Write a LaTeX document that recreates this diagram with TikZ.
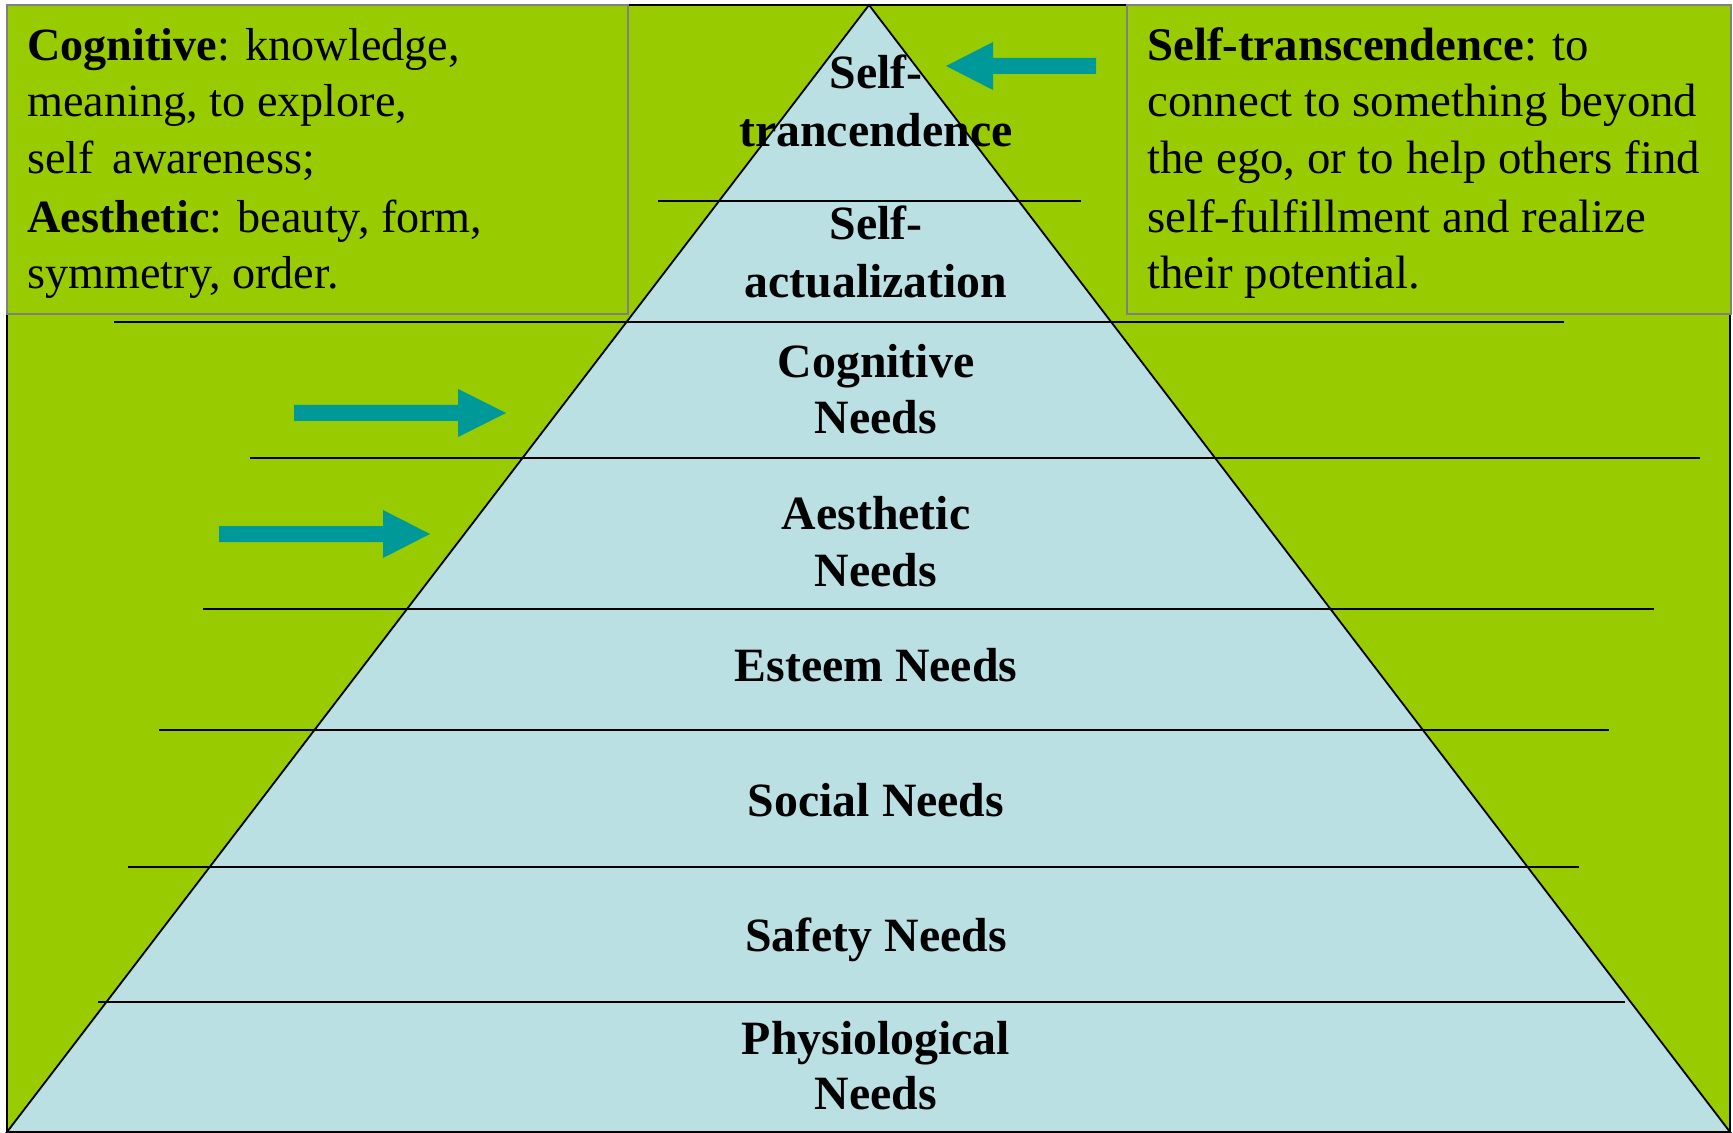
\documentclass[tikz,border=0pt]{standalone}
\usepackage{fontspec}
\setmainfont{Liberation Serif}
\definecolor{leaf}{HTML}{99CC00}
\definecolor{sky}{HTML}{BBE0E3}
\definecolor{tealarrow}{HTML}{009999}
\definecolor{boxgray}{HTML}{808080}
\begin{document}
\begin{tikzpicture}[x=0.5pt,y=-0.5pt,
  boxtext/.style={anchor=base west, inner sep=0pt, font=\fontsize{23.1}{28.5}\selectfont},
  widetext/.style={boxtext, font=\fontsize{23.4}{28.5}\selectfont},
  level/.style={anchor=base, inner sep=0pt, font=\fontsize{23.9}{28.5}\selectfont\bfseries},
  tier/.style={line width=1pt, black},
  blockarrow/.style={fill=tealarrow},
  infobox/.style={fill=leaf, draw=boxgray, line width=1pt},
  frame/.style={line width=1pt, black}]
\useasboundingbox (0,0) rectangle (1733,1133);

% corners of the frame and of the pyramid
\coordinate (nw) at (7,5);
\coordinate (se) at (1730,1132);
\coordinate (apex) at (869,5);
\coordinate (baseL) at (7,1132);
\coordinate (baseR) at (1730,1132);

% green ground
\fill[leaf] (nw) rectangle (se);

% the pyramid
\filldraw[fill=sky, draw=black, line width=0.9pt] (baseL) -- (apex) -- (baseR) -- cycle;

% dividing lines between the levels
\draw[tier] (658,201) -- (1081,201);
\draw[tier] (114,322) -- (1564,322);
\draw[tier] (250,458) -- (1700,458);
\draw[tier] (203,609) -- (1654,609);
\draw[tier] (159,730) -- (1609,730);
\draw[tier] (128,867) -- (1579,867);
\draw[tier] (98,1002) -- (1625,1002);

% outer frame
\draw[frame] (nw) rectangle (se);

% explanation boxes
\draw[infobox] (7,5) rectangle (628,314);
\draw[infobox] (1127,5) rectangle (1731,314);

\node[boxtext] (c1) at (27,61) {\textbf{Cognitive}: knowledge,};
\node[boxtext] (c2) at (27,117) {meaning, to explore,};
\node[boxtext] (c3) at (27,174) {self\hspace{0.4em}awareness;};
\node[boxtext] (c4) at (27,233) {\textbf{Aesthetic}: beauty, form,};
\node[boxtext] (c5) at (27,289) {symmetry, order.};

\node[widetext] (t1) at (1147,61) {\textbf{Self-transcendence}: to};
\node[widetext] (t2) at (1147,117) {connect to something beyond};
\node[widetext] (t3) at (1147,174) {the ego, or to help others find};
\node[widetext] (t4) at (1147,233) {self-fulfillment and realize};
\node[widetext] (t5) at (1147,289) {their potential.};

% level labels
\node[level] (st1) at (876,89) {Self-};
\node[level] (st2) at (876,147) {trancendence};
\node[level] (sa1) at (876,240) {Self-};
\node[level] (sa2) at (876,298) {actualization};
\node[level] (cn1) at (876,378) {Cognitive};
\node[level] (cn2) at (876,434) {Needs};
\node[level] (an1) at (876,529) {Aesthetic};
\node[level] (an2) at (876,586) {Needs};
\node[level] (es) at (876,681) {Esteem Needs};
\node[level] (so) at (876,816) {Social Needs};
\node[level] (sf) at (876,951) {Safety Needs};
\node[level] (ph1) at (876,1054) {Physiological};
\node[level] (ph2) at (876,1109) {Needs};

% block arrows pointing at the pyramid
\fill[blockarrow] (294,405) -- (458,405) -- (458,389) -- (506,413) -- (458,437) -- (458,421) -- (294,421) -- cycle;
\fill[blockarrow] (219,526) -- (383,526) -- (383,510) -- (430,534) -- (383,558) -- (383,542) -- (219,542) -- cycle;
\fill[blockarrow] (1096,58) -- (993,58) -- (993,42) -- (946,66) -- (993,90) -- (993,74) -- (1096,74) -- cycle;
\end{tikzpicture}
\end{document}
